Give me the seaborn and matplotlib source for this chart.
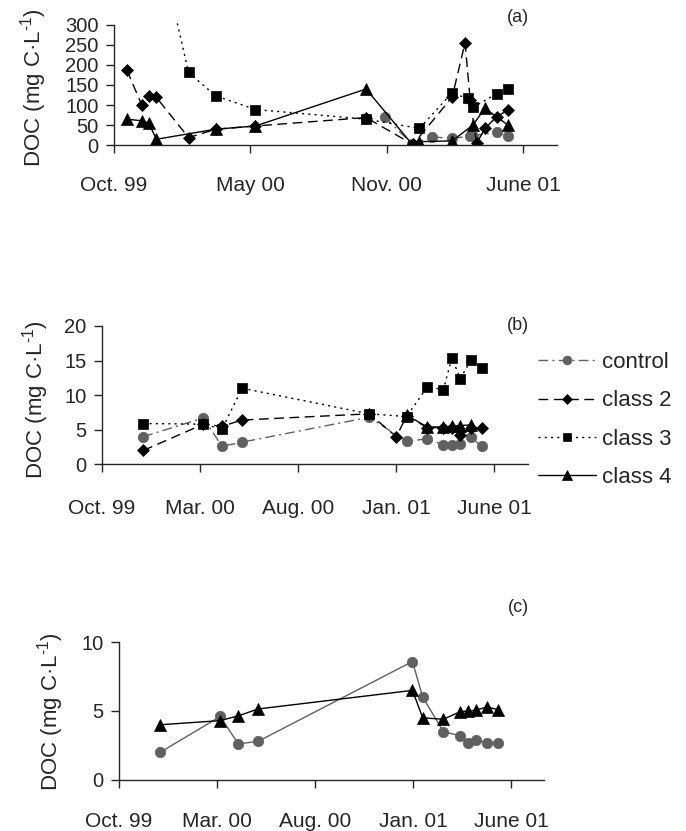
import matplotlib
matplotlib.use("Agg")
import matplotlib.pyplot as plt
import seaborn as sns

# x values are days counted from the "Oct. 99" tick of each panel
# ---- panel (a)
a_ticks = [0, 212, 424, 636]
a_ticklabels = ["Oct. 99", "May 00", "Nov. 00", "June 01"]
a_ctrl_day = [421, 464, 495, 526, 554, 558, 596, 613]
a_ctrl_val = [70, 3, 21, 17, 23, 24, 32, 24]
a_c2_day = [20, 43, 54, 66, 116, 158, 220, 392, 465, 526, 546, 554, 564, 577, 595, 613]
a_c2_val = [187, 101, 123, 119, 19, 40, 48, 69, 2, 120, 255, 112, 5, 42, 71, 88]
a_c3_day = [66, 116, 158, 220, 392, 475, 525, 551, 558, 595, 613]
a_c3_val = [530, 181, 123, 89, 65, 42, 129, 117, 94, 128, 139]
a_c4_day = [20, 43, 54, 66, 158, 220, 392, 465, 475, 526, 558, 577, 613]
a_c4_val = [65, 61, 55, 15, 40, 48, 140, 0, 9, 11, 50, 92, 50]

# ---- panel (b)
bc_ticks = [0, 152, 304, 456, 608]
bc_ticklabels = ["Oct. 99", "Mar. 00", "Aug. 00", "Jan. 01", "June 01"]
b_ctrl_day = [64, 157, 186, 217, 414, 472, 504, 529, 542, 555, 572, 588]
b_ctrl_val = [4.0, 6.7, 2.6, 3.2, 6.8, 3.3, 3.7, 2.8, 2.8, 2.9, 3.9, 2.6]
b_c2_day = [64, 157, 186, 217, 414, 456, 472, 504, 529, 542, 555, 572, 588]
b_c2_val = [2.0, 5.8, 5.5, 6.4, 7.3, 4.0, 7.0, 5.3, 5.3, 5.3, 4.3, 5.3, 5.3]
b_c3_day = [64, 157, 186, 217, 414, 472, 504, 529, 542, 555, 572, 588]
b_c3_val = [5.9, 5.8, 5.1, 11.0, 7.3, 6.9, 11.2, 10.8, 15.4, 12.4, 15.1, 13.9]
b_c4_day = [472, 504, 529, 542, 555, 572]
b_c4_val = [7.1, 5.4, 5.4, 5.5, 5.6, 5.7]

# ---- panel (c)
c_day = [64, 157, 185, 216, 455, 471, 503, 529, 541, 553, 571, 587]
c_ctrl_val = [2.0, 4.6, 2.6, 2.8, 8.6, 6.0, 3.5, 3.2, 2.7, 2.9, 2.7, 2.65]
c_c4_val = [4.0, 4.3, 4.65, 5.15, 6.5, 4.5, 4.4, 4.95, 5.0, 5.05, 5.3, 5.1]

GRAY = "#606060"
STYLES = {
    "control": dict(color=GRAY, marker="o", markersize=7.5, linestyle=(0, (7, 3, 1.5, 3))),
    "class 2": dict(color="black", marker="D", markersize=6, linestyle=(0, (7, 4))),
    "class 3": dict(color="black", marker="s", markersize=7.5, linestyle=(0, (1.5, 3))),
    "class 4": dict(color="black", marker="^", markersize=8.5, linestyle="-"),
}

sns.set_style("ticks")
plt.rcParams["font.family"] = ["Liberation Sans", "DejaVu Sans"]
plt.rcParams["mathtext.fontset"] = "custom"
plt.rcParams["mathtext.rm"] = "Liberation Sans"
plt.rcParams["mathtext.default"] = "regular"

W, H = 686, 831
fig = plt.figure(figsize=(W / 100, H / 100), dpi=100)


def px_axes(left, right, y0, ytop):
    """Axes placed by pixel coordinates of the reference image."""
    return fig.add_axes([left / W, 1 - y0 / H, (right - left) / W, (y0 - ytop) / H])


def draw(ax, x, y, name, **over):
    st = dict(STYLES[name])
    st.update(over)
    sns.lineplot(x=x, y=y, ax=ax, label=name, legend=False, estimator=None,
                 sort=False, linewidth=1.0, markeredgecolor=st["color"],
                 markeredgewidth=0.5, **st)


def style_axes(ax, xlim, ticks, ticklabels, ylim, yticks, xpad=16):
    ax.set_xlim(*xlim)
    ax.set_ylim(*ylim)
    ax.set_xticks(ticks)
    ax.set_xticklabels(ticklabels)
    ax.set_yticks(yticks)
    ax.set_xlabel("")
    ax.set_ylabel("")
    for s in ["top", "right"]:
        ax.spines[s].set_visible(False)
    ax.spines["left"].set_bounds(yticks[0], yticks[-1])
    ax.spines["left"].set_linewidth(1.0)
    ax.spines["bottom"].set_linewidth(1.0)
    ax.tick_params(axis="x", direction="out", length=6, width=1, pad=xpad, labelsize=15)
    ax.tick_params(axis="y", direction="out", length=6, width=1, pad=5, labelsize=14.5)


ylab = "DOC (mg C·L$^{\u2010 1}$)"

# (a)
ax_a = px_axes(114, 557, 145.3, 19.8)
draw(ax_a, a_ctrl_day, a_ctrl_val, "control")
draw(ax_a, a_c2_day, a_c2_val, "class 2")
draw(ax_a, a_c3_day, a_c3_val, "class 3")
draw(ax_a, a_c4_day, a_c4_val, "class 4")
style_axes(ax_a, (0, 689), a_ticks, a_ticklabels, (0, 312), list(range(0, 301, 50)))
fig.text(34 / W, 1 - 88 / H, ylab, rotation=90, ha="center", va="center", fontsize=16)
fig.text(518 / W, 1 - 17 / H, "(a)", ha="center", va="center", fontsize=13)

# (b)
ax_b = px_axes(102, 528, 464.3, 326)
draw(ax_b, b_ctrl_day, b_ctrl_val, "control")
draw(ax_b, b_c2_day, b_c2_val, "class 2")
draw(ax_b, b_c3_day, b_c3_val, "class 3")
draw(ax_b, b_c4_day, b_c4_val, "class 4")
style_axes(ax_b, (0, 660), bc_ticks, bc_ticklabels, (0, 20), [0, 5, 10, 15, 20], xpad=19)
fig.text(36 / W, 1 - 400 / H, ylab, rotation=90, ha="center", va="center", fontsize=16)
fig.text(518 / W, 1 - 325 / H, "(b)", ha="center", va="center", fontsize=13)

handles, labels = ax_b.get_legend_handles_labels()
fig.legend(handles, labels, loc="center left", bbox_to_anchor=(538 / W, 1 - 420 / H),
           frameon=False, fontsize=16, handlelength=2.6, handletextpad=0.3,
           labelspacing=0.78, borderpad=0, borderaxespad=0, markerscale=0.85)

# (c)
ax_c = px_axes(119, 544, 779.7, 642.3)
draw(ax_c, c_day, c_ctrl_val, "control", linestyle="-")
draw(ax_c, c_day, c_c4_val, "class 4")
style_axes(ax_c, (0, 659), bc_ticks, bc_ticklabels, (0, 10), [0, 5, 10], xpad=17)
fig.text(51 / W, 1 - 712 / H, ylab, rotation=90, ha="center", va="center", fontsize=16)
fig.text(518 / W, 1 - 607 / H, "(c)", ha="center", va="center", fontsize=13)

fig.savefig("out.png", dpi=100)
